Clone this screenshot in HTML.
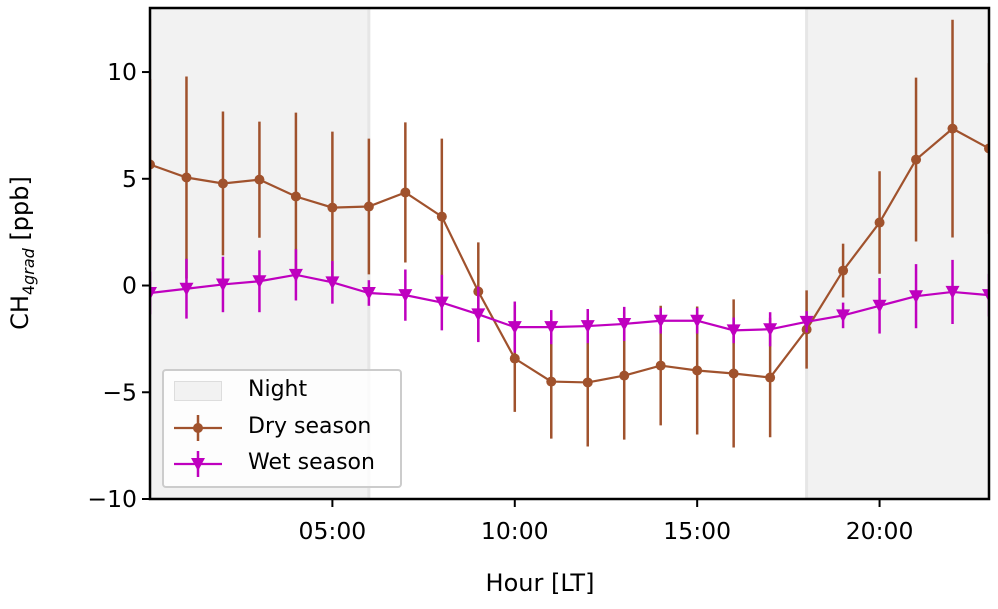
<!DOCTYPE html>
<html><head><meta charset="utf-8"><style>
body{margin:0;background:#fff;}
svg{font-family:"DejaVu Sans","Liberation Sans",sans-serif;}
</style></head><body>
<svg id="c" width="998" height="604" viewBox="0 0 998 604"></svg>
<script>
const hours=[0,1,2,3,4,5,6,7,8,9,10,11,12,13,14,15,16,17,18,19,20,21,22,23];
const dryVals=[5.67,5.06,4.78,4.96,4.17,3.65,3.7,4.36,3.23,-0.28,-3.42,-4.5,-4.54,-4.22,-3.75,-3.98,-4.12,-4.31,-2.06,0.7,2.95,5.9,7.35,6.42];
const dryErr=[4.0,4.73,3.37,2.72,3.93,3.56,3.18,3.28,3.65,2.3,2.5,2.67,3.0,3.0,2.8,3.0,3.47,2.8,1.83,1.26,2.4,3.84,5.1,4.0];
const wetVals=[-0.35,-0.15,0.05,0.2,0.5,0.15,-0.35,-0.45,-0.8,-1.35,-1.95,-1.95,-1.9,-1.8,-1.65,-1.65,-2.1,-2.05,-1.7,-1.4,-0.95,-0.5,-0.3,-0.45];
const wetErr=[1.0,1.4,1.3,1.45,1.2,1.0,0.6,1.2,1.3,1.3,1.2,0.8,0.8,0.8,0.6,0.6,0.6,0.8,0.5,0.6,1.3,1.5,1.5,1.0];
const xTicks=[5,10,15,20];
const xTickLabels=["05:00","10:00","15:00","20:00"];
const yTicks=[-10,-5,0,5,10];
const yTickLabels=["\u221210","\u22125","0","5","10"];
const nights=[[0,6],[18,23]];
const L=150,R=989,T=8,B=499,X0=0,X1=23,Y0=-10,Y1=13;
const sx=h=>L+(h-X0)/(X1-X0)*(R-L);
const sy=v=>B-(v-Y0)/(Y1-Y0)*(B-T);
const svg=document.getElementById('c');const NS='http://www.w3.org/2000/svg';
function mk(t,a,p){const e=document.createElementNS(NS,t);for(const k in a)e.setAttribute(k,a[k]);(p||svg).appendChild(e);return e;}
const clip=mk('clipPath',{id:'pc'});mk('rect',{x:L,y:T,width:R-L,height:B-T},clip);
const g=mk('g',{'clip-path':'url(#pc)'});


nights.forEach(n=>{const r=mk('rect',{x:sx(n[0]),y:T,width:sx(n[1])-sx(n[0]),height:B-T,fill:'#f2f2f2',stroke:'#e6e6e6','stroke-width':3},g);

});
function series(vals,errs,color,name,marker){
 const sg=mk('g',{},g);
 
 
 hours.forEach((h,i)=>{const e=mk('line',{x1:sx(h),x2:sx(h),y1:sy(vals[i]-errs[i]),y2:sy(vals[i]+errs[i]),stroke:color,'stroke-width':2.5},sg);
 
 });
 const ln=mk('polyline',{points:hours.map((h,i)=>sx(h)+','+sy(vals[i])).join(' '),fill:'none',stroke:color,'stroke-width':2.2},sg);
 
 
 hours.forEach((h,i)=>{const x=sx(h),y=sy(vals[i]);let m;
  if(marker==='o')m=mk('circle',{cx:x,cy:y,r:5,fill:color},sg);
  else m=mk('polygon',{points:`${x-7},${y-6} ${x+7},${y-6} ${x},${y+7}`,fill:color},sg);
  
  });
}
series(dryVals,dryErr,'#a0522d','dry-season','o');
series(wetVals,wetErr,'#bf00bf','wet-season','v');
const fr=mk('rect',{x:L,y:T,width:R-L,height:B-T,fill:'none',stroke:'#000','stroke-width':2.5});


xTicks.forEach((t,i)=>{const x=sx(t);mk('line',{x1:x,x2:x,y1:B,y2:B+8,stroke:'#000','stroke-width':2});
 const tx=mk('text',{x:x,y:B+40,'font-size':23.5,'text-anchor':'middle'});tx.textContent=xTickLabels[i];
 
 });
yTicks.forEach((t,i)=>{const y=sy(t);mk('line',{x1:L-8,x2:L,y1:y,y2:y,stroke:'#000','stroke-width':2});
 const tx=mk('text',{x:L-13,y:y+8,'font-size':23.5,'text-anchor':'end'});tx.textContent=yTickLabels[i];
 
 });
</script>
<div style="position:absolute;left:0;top:0;width:998px;height:604px;pointer-events:none;font-family:'DejaVu Sans','Liberation Sans',sans-serif;">
 <div style="position:absolute;left:460px;top:568px;width:160px;text-align:center;font-size:24px;line-height:30px;">Hour [LT]</div>
 <div style="position:absolute;left:-70px;top:238px;width:180px;height:30px;text-align:center;font-size:24px;line-height:30px;transform:rotate(-90deg);">CH<sub style="font-size:16px;">4<i>grad</i></sub> [ppb]</div>
 <div style="position:absolute;left:162px;top:369px;width:236px;height:115px;background:rgba(255,255,255,0.8);border:2px solid #ccc;border-radius:4px;font-size:22px;">
  <div style="position:absolute;left:10px;top:10px;width:46px;height:18px;background:#f2f2f2;border:1px solid #ddd;"></div>
  <div style="position:absolute;left:84px;top:6px;">Night</div>
  <svg style="position:absolute;left:6px;top:42px;" width="56" height="30"><line x1="4" x2="52" y1="15" y2="15" stroke="#a0522d" stroke-width="2.2"/><line x1="28" x2="28" y1="2" y2="28" stroke="#a0522d" stroke-width="2.5"/><circle cx="28" cy="15" r="5" fill="#a0522d"/></svg>
  <div style="position:absolute;left:84px;top:43px;">Dry season</div>
  <svg style="position:absolute;left:6px;top:78px;" width="56" height="30"><line x1="4" x2="52" y1="15" y2="15" stroke="#bf00bf" stroke-width="2.2"/><line x1="28" x2="28" y1="2" y2="28" stroke="#bf00bf" stroke-width="2.5"/><polygon points="21,9 35,9 28,22" fill="#bf00bf"/></svg>
  <div style="position:absolute;left:84px;top:79px;">Wet season</div>
 </div>
</div>
</body></html>
